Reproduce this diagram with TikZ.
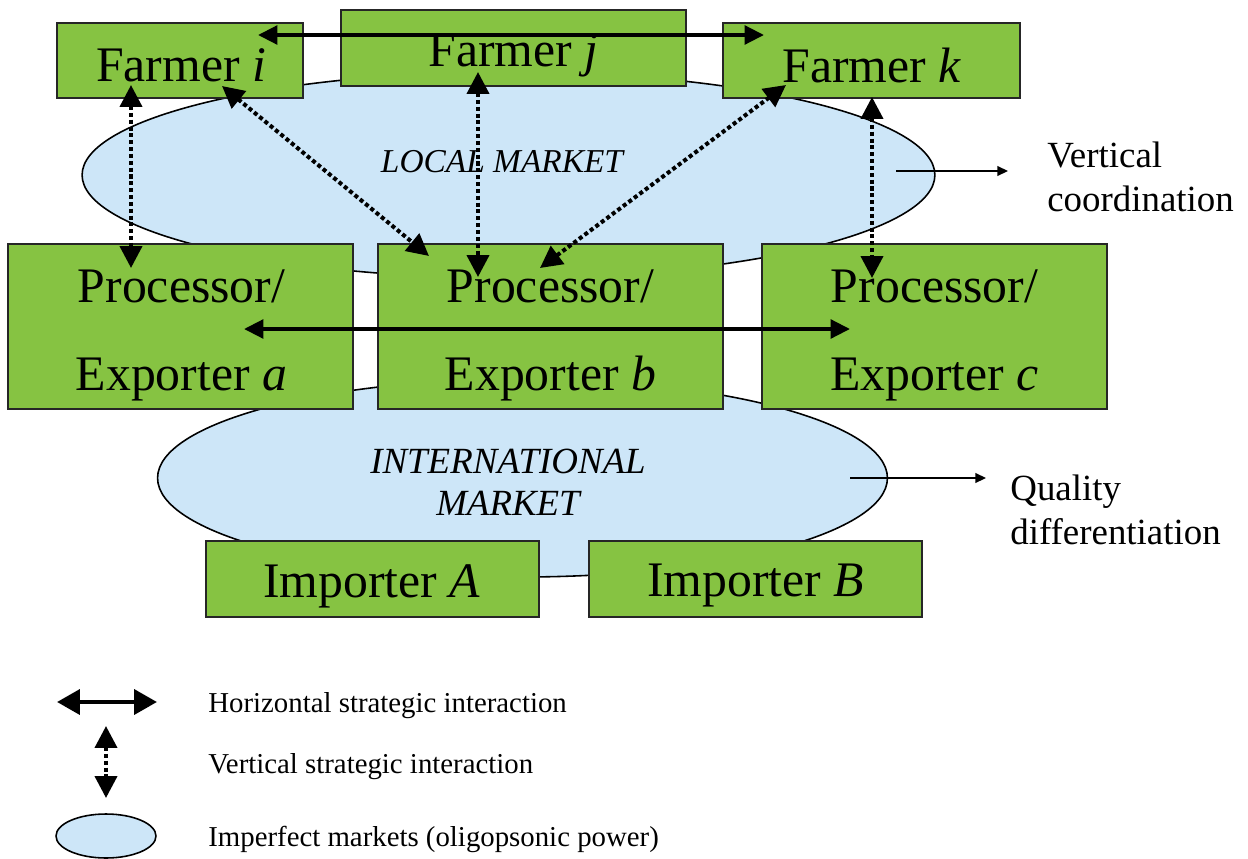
\documentclass[tikz,border=0pt]{standalone}
\usepackage{fontspec}
\setmainfont{Liberation Serif}
\usetikzlibrary{arrows.meta,shapes.geometric}
\definecolor{agent}{RGB}{134,195,66}
\definecolor{market}{RGB}{205,230,248}
\begin{document}
\begin{tikzpicture}[x=0.02cm,y=-0.02cm,
  agentbox/.style={rectangle,draw=black!85,line width=0.8pt,fill=agent,inner sep=0pt},
  boxtext/.style={font=\fontsize{28.3}{50}\selectfont,align=center,inner sep=0pt},
  marketell/.style={ellipse,draw=black,line width=0.9pt,fill=market,inner sep=0pt},
  marketlabel/.style={align=center,inner sep=0pt},
  horiz/.style={line width=2.3pt,{Triangle[length=11pt,width=10.5pt]}-{Triangle[length=11pt,width=10.5pt]}},
  horizkey/.style={line width=2.6pt,{Triangle[length=13pt,width=14pt]}-{Triangle[length=13pt,width=14pt]}},
  vert/.style={line width=2.3pt,dash pattern=on 2.3pt off 1.6pt,{Triangle[length=12.5pt,width=12.5pt]}-{Triangle[length=12.5pt,width=12.5pt]}},
  note/.style={line width=0.9pt,-{Triangle[length=6pt,width=5.5pt]}},
  sidelabel/.style={font=\fontsize{21}{25}\selectfont,align=left,anchor=west,inner sep=0pt},
  keytext/.style={font=\fontsize{16.4}{19}\selectfont,anchor=west,inner sep=0pt}
]
\useasboundingbox (0,0) rectangle (1248,859);

% markets
\node[marketell,minimum width=17.06cm,minimum height=4.12cm] (lm) at (508.5,175) {};
\node[marketell,minimum width=14.6cm,minimum height=3.96cm] (im) at (522.5,478) {};
\node[marketlabel,font=\fontsize{19}{22}\selectfont\itshape] (lmtext) at (502,162) {LOCAL MARKET};
\node[marketlabel,font=\fontsize{21}{24}\selectfont\itshape] (imtext) at (508,482) {INTERNATIONAL\\MARKET};

% farmers
\node[agentbox,minimum width=4.92cm,minimum height=1.5cm] (fi) at (180,60.5) {};
\node[agentbox,minimum width=6.9cm,minimum height=1.52cm] (fj) at (513.5,48) {};
\node[agentbox,minimum width=5.94cm,minimum height=1.5cm] (fk) at (871.5,60.5) {};
\node[boxtext] (fitext) at (181,65.5) {Farmer \textit{i}};
\node[boxtext] (fjtext) at (513.5,55) {Farmer \textit{j}};
\node[boxtext] (fktext) at (872,65.5) {Farmer \textit{k}};

% processors / exporters
\node[agentbox,minimum width=6.9cm,minimum height=3.3cm] (pa) at (180.5,326.5) {};
\node[agentbox,minimum width=6.9cm,minimum height=3.3cm] (pb) at (550.5,326.5) {};
\node[agentbox,minimum width=6.9cm,minimum height=3.3cm] (pc) at (934.5,326.5) {};
\node[boxtext] (patext) at (181.5,335.5) {Processor/\\Exporter \textit{a}};
\node[boxtext] (pbtext) at (550.5,335.5) {Processor/\\Exporter \textit{b}};
\node[boxtext] (pctext) at (934.5,335.5) {Processor/\\Exporter \textit{c}};

% importers
\node[agentbox,minimum width=6.66cm,minimum height=1.52cm] (ia) at (372.5,579) {};
\node[agentbox,minimum width=6.66cm,minimum height=1.52cm] (ib) at (755.5,579) {};
\node[boxtext] (iatext) at (371.5,586) {Importer \textit{A}};
\node[boxtext] (ibtext) at (755.5,586) {Importer \textit{B}};

% arrow end points inside the boxes
\coordinate (fiH) at (258,35);
\coordinate (fkH) at (764,35);
\coordinate (paH) at (244,329);
\coordinate (pcH) at (850,329);
\coordinate (fiV) at (131,85);
\coordinate (paV) at (131,268);
\coordinate (fjV) at (478,72);
\coordinate (pbV) at (478,277);
\coordinate (fkV) at (872,97);
\coordinate (pcV) at (872,278);
\coordinate (fiD) at (222,86);
\coordinate (pbL) at (429,256);
\coordinate (fkD) at (786,85);
\coordinate (pbR) at (540,268);

% horizontal strategic interaction
\draw[horiz] (fiH) -- (fkH);
\draw[horiz] (paH) -- (pcH);

% vertical strategic interaction
\draw[vert] (fiV) -- (paV);
\draw[vert] (fjV) -- (pbV);
\draw[vert] (fkV) -- (pcV);
\draw[vert] (fiD) -- (pbL);
\draw[vert] (fkD) -- (pbR);

% market characteristics
\coordinate (lmOut) at (896,171);
\coordinate (vcIn) at (1008,171);
\coordinate (imOut) at (850,478);
\coordinate (qdIn) at (986,478);
\draw[note] (lmOut) -- (vcIn);
\draw[note] (imOut) -- (qdIn);
\node[sidelabel] (vc) at (1047,177) {Vertical\\coordination};
\node[sidelabel] (qd) at (1010,510) {Quality\\differentiation};

% key
\coordinate (kh1) at (57,702);
\coordinate (kh2) at (157,702);
\coordinate (kv1) at (106,726);
\coordinate (kv2) at (106,798);
\draw[horizkey] (kh1) -- (kh2);
\draw[vert] (kv1) -- (kv2);
\node[marketell,minimum width=2cm,minimum height=0.88cm] (kell) at (106,836) {};
\node[keytext] (kt1) at (208,706) {Horizontal strategic interaction};
\node[keytext] (kt2) at (208,767) {Vertical strategic interaction};
\node[keytext] (kt3) at (208,839) {Imperfect markets (oligopsonic power)};
\end{tikzpicture}
\end{document}
